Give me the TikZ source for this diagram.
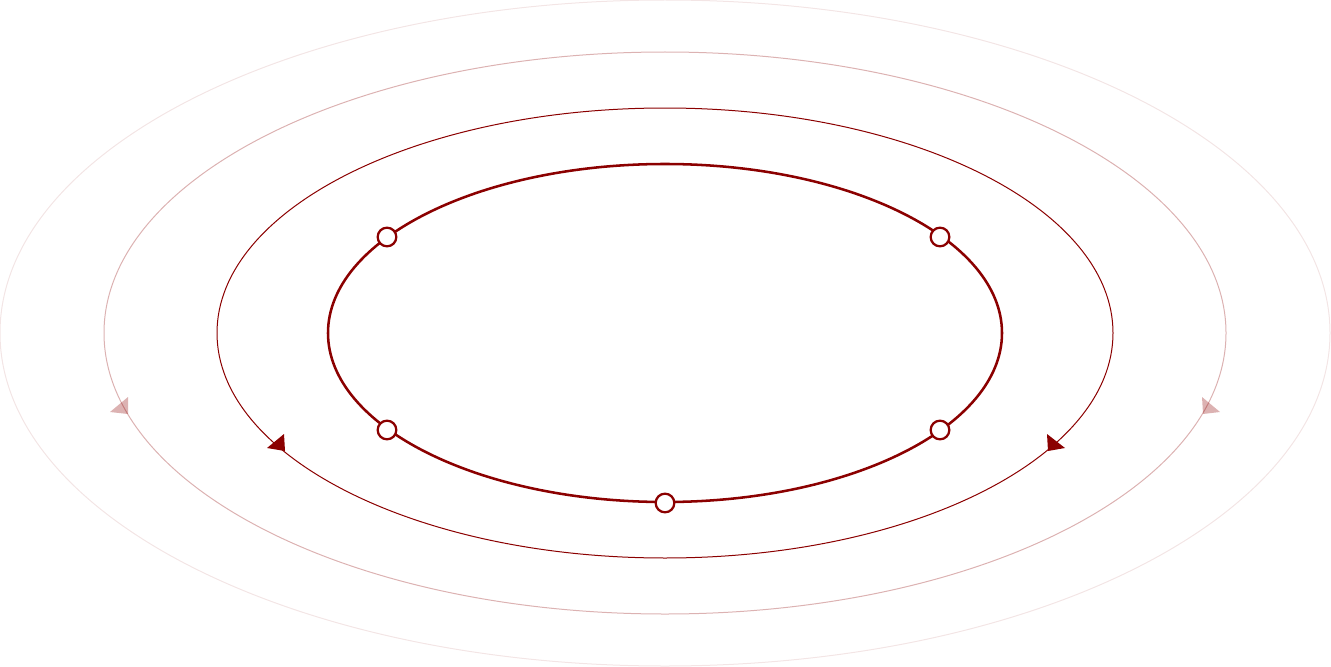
\documentclass[tikz,border=0pt]{standalone}
\usepackage{tikz}
\definecolor{orbitred}{RGB}{139,0,0}
\tikzset{orbit/.style={orbitred, line width=.75pt}}
\tikzset{site/.style={circle, draw=orbitred, fill=white, line width=1.7pt, minimum size=14pt, inner sep=0pt}}

\begin{document}
\begin{tikzpicture}[x=0.75pt,y=-0.75pt]
    \useasboundingbox (0,0) rectangle (1331,667);

    % orbits, inner to outer
    \draw[orbitred, line width=1.9pt] (665,333) ellipse (337 and 169);
    \draw[orbit] (665,333) ellipse (448 and 225);
    \draw[orbit, draw opacity=.3] (665,333) ellipse (561 and 281);
    \draw[orbit, draw opacity=.1] (665,333) ellipse (665 and 333);

    % heads on the orbits
    \fill[orbitred] (284,434) -- (267,448) -- (285,451) -- cycle;
    \fill[orbitred] (1047,434) -- (1065,448) -- (1048,451) -- cycle;
    \fill[orbitred, opacity=.3] (128,397) -- (110,412) -- (128,414) -- cycle;
    \fill[orbitred, opacity=.3] (1202,397) -- (1220,412) -- (1203,414) -- cycle;

    % sites on the inner orbit
    \node[site] (s1) at (387,237) {};
    \node[site] (s2) at (940,237) {};
    \node[site] (s3) at (387,430) {};
    \node[site] (s4) at (940,430) {};
    \node[site] (s5) at (665,503) {};
\end{tikzpicture}
\end{document}
